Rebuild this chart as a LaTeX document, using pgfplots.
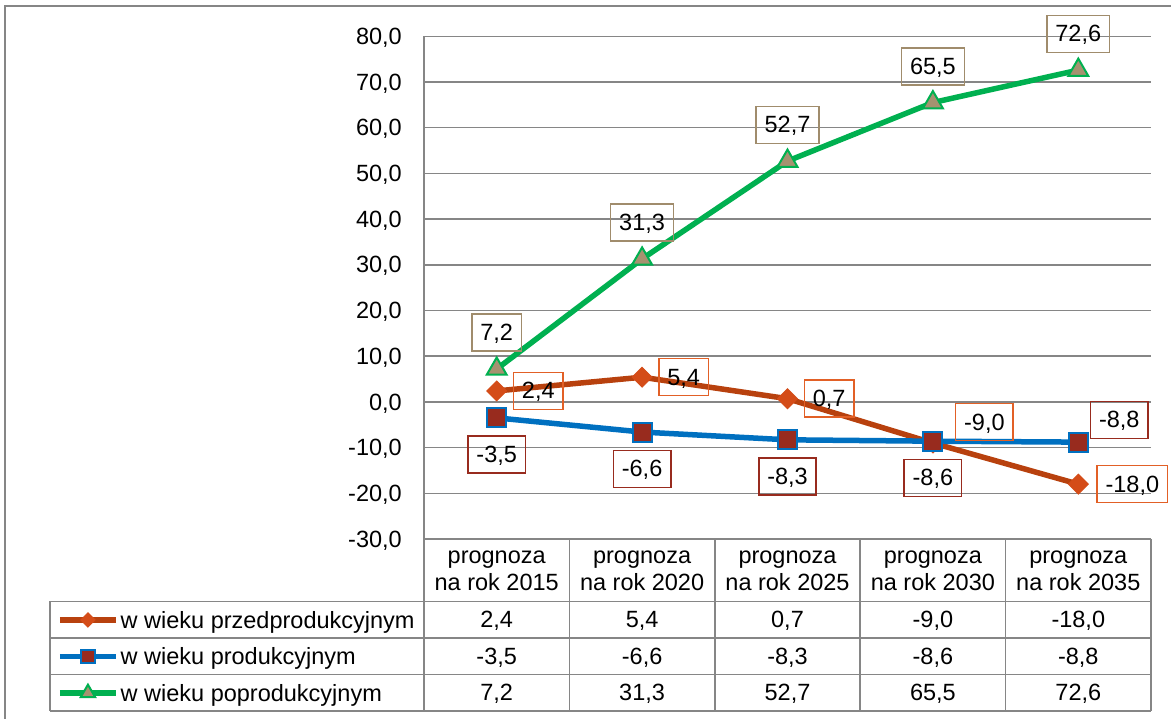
\documentclass[border=0pt]{standalone}
\usepackage{pgfplots}
\pgfplotsset{compat=1.18}
\usepackage{fontspec}
\setmainfont{Liberation Sans}
\definecolor{s1line}{RGB}{184,65,14}
\definecolor{s1mark}{RGB}{212,76,24}
\definecolor{s1box}{RGB}{226,96,38}
\definecolor{s2line}{RGB}{0,112,192}
\definecolor{s2mark}{RGB}{152,43,30}
\definecolor{s2box}{RGB}{152,43,30}
\definecolor{s3line}{RGB}{0,176,80}
\definecolor{s3mark}{RGB}{166,146,112}
\definecolor{s3box}{RGB}{160,140,108}
\definecolor{gridgray}{RGB}{134,134,134}

\tikzset{lbl/.style={draw=#1, line width=1.5pt, text=black, fill=none,
  inner xsep=8.5pt, inner ysep=7.5pt, text height=19pt, text depth=3pt}}

\begin{document}
\begin{tikzpicture}[font=\fontsize{23.5}{28}\selectfont]
\useasboundingbox (0pt,0pt) rectangle (1171pt,719pt);
\draw[gridgray, line width=1.5pt] (5pt,-5pt) -- (5pt,713pt) -- (1180pt,713pt);

\begin{axis}[
  at={(424pt,180pt)}, anchor=south west,
  scale only axis, width=727pt, height=502.7pt,
  xmin=-0.5, xmax=4.5, ymin=-30, ymax=80,
  ytick={-30,-20,...,80}, xtick=\empty,
  axis x line=none, axis y line*=left,
  axis line style={gridgray, line width=1.5pt, -},
  ymajorgrids, major grid style={gridgray, line width=1.5pt},
  major tick length=0pt,
  yticklabel style={anchor=east, inner sep=0pt, xshift=-22pt, text depth=0pt},
  clip=false,
  /pgf/number format/fixed, /pgf/number format/fixed zerofill,
  /pgf/number format/precision=1, /pgf/number format/use comma,
  /pgf/number format/assume math mode=true,
  legend style={at={(-0.5048,-0.1243)}, anchor=north west, draw=none, fill=none,
    inner sep=0pt, row sep=0pt, font=\fontsize{23.5}{28}\selectfont,
    nodes={inner xsep=2pt, inner ysep=0pt, text height=26.5pt, text depth=10pt}},
  legend cell align=left,
  legend image code/.code={\draw[mark repeat=2,mark phase=2, every mark/.append style={scale=0.72}] plot coordinates {(0pt,0pt) (28pt,0pt) (56pt,0pt)};},
]
\addplot[s1line, line width=5.5pt, mark=square*, mark size=7pt,
  mark options={rotate=45, fill=s1mark, draw=s1mark, line width=1pt, solid},
  nodes near coords,
  every node near coord/.append style={lbl=s1box, anchor=west, xshift=16pt},
  coordinate style/.condition={x==3}{xshift=6pt, yshift=21pt},
  coordinate style/.condition={x==4}{xshift=2pt},
  ]
  coordinates {(0,2.4) (1,5.4) (2,0.7) (3,-9.0) (4,-18.0)};
\addlegendentry{w wieku przedprodukcyjnym}
\addplot[s2line, line width=5.5pt, mark=square*, mark size=9.5pt,
  mark options={fill=s2mark, draw=s2line, line width=2pt, solid},
  nodes near coords,
  every node near coord/.append style={lbl=s2box, anchor=north, yshift=-17.5pt},
  coordinate style/.condition={x==4}{xshift=41pt, yshift=59pt},
  ]
  coordinates {(0,-3.5) (1,-6.6) (2,-8.3) (3,-8.6) (4,-8.8)};
\addlegendentry{w wieku produkcyjnym}
\addplot[s3line, line width=5.5pt, mark=triangle*, mark size=11.5pt,
  mark options={fill=s3mark, draw=s3line, line width=2pt, solid},
  nodes near coords,
  every node near coord/.append style={lbl=s3box, anchor=south, yshift=17pt},
  ]
  coordinates {(0,7.2) (1,31.3) (2,52.7) (3,65.5) (4,72.6)};
\addlegendentry{w wieku poprodukcyjnym}
\end{axis}

% data table grid
\draw[gridgray, line width=1.5pt] (424pt,180pt) -- (1151pt,180pt);
\foreach \yy in {117.5,81,44.5,8} \draw[gridgray, line width=1.5pt] (50pt,\yy pt) -- (1151pt,\yy pt);
\draw[gridgray, line width=1.5pt] (50pt,117.5pt) -- (50pt,8pt);
\foreach \xx in {424,569.4,714.8,860.2,1005.6,1151} \draw[gridgray, line width=1.5pt] (\xx pt,180pt) -- (\xx pt,8pt);

\foreach \i/\yr in {0/2015,1/2020,2/2025,3/2030,4/2035}{
  \node[anchor=base, inner sep=0pt] at ({(496.7+145.4*\i)*1pt},155pt) {prognoza};
  \node[anchor=base, inner sep=0pt] at ({(496.7+145.4*\i)*1pt},128pt) {na rok \yr};
}
\foreach \i/\v in {0/{2,4},1/{5,4},2/{0,7},3/{-9,0},4/{-18,0}}
  \node[anchor=base, inner sep=0pt] at ({(496.7+145.4*\i)*1pt},91pt) {\v};
\foreach \i/\v in {0/{-3,5},1/{-6,6},2/{-8,3},3/{-8,6},4/{-8,8}}
  \node[anchor=base, inner sep=0pt] at ({(496.7+145.4*\i)*1pt},54.5pt) {\v};
\foreach \i/\v in {0/{7,2},1/{31,3},2/{52,7},3/{65,5},4/{72,6}}
  \node[anchor=base, inner sep=0pt] at ({(496.7+145.4*\i)*1pt},18pt) {\v};
\end{tikzpicture}
\end{document}
